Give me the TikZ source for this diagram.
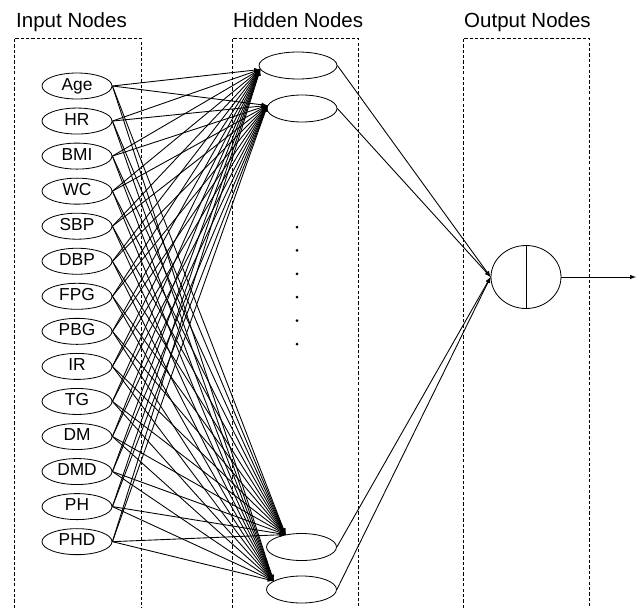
\documentclass[tikz,border=0pt]{standalone}
\usepackage{fontspec}
\setmainfont{Liberation Sans}
\usetikzlibrary{shapes.geometric}
\tikzset{
  layerbox/.style={dash pattern=on 2.8pt off 1.8pt, line width=0.55pt},
  layertitle/.style={anchor=base west, inner sep=0pt, font=\fontsize{17.5}{20}\selectfont},
  inode/.style={ellipse, draw, line width=0.7pt, inner sep=0.5pt,
    minimum width=2.1cm, minimum height=0.78cm,
    font=\fontsize{14.8}{16}\selectfont, text height=1.38ex, text depth=0pt},
  hnode/.style={ellipse, draw, line width=0.7pt, minimum width=2.1cm, minimum height=0.81cm},
  onode/.style={ellipse, draw, line width=0.7pt, minimum width=2.1cm, minimum height=1.89cm},
  link/.style={->, >=latex, line width=0.75pt}
}
\begin{document}
\begin{tikzpicture}[x=0.03cm,y=-0.03cm]
    \useasboundingbox (0,0) rectangle (638,609);
    % Layers
    \draw[layerbox] (14,608) |- (141,38) -- (141,608);
    \draw[layerbox] (232,608) |- (358,38) -- (358,608);
    \draw[layerbox] (463,608) |- (589,38) -- (589,608);
    \node[layertitle] (tin) at (16,27) {Input Nodes};
    \node[layertitle] (thid) at (233,27) {Hidden Nodes};
    \node[layertitle] (tout) at (464,27) {Output Nodes};
    % Input nodes
    \foreach \lab [count=\i] in {Age,HR,BMI,WC,SBP,DBP,FPG,PBG,IR,TG,DM,DMD,PH,PHD}
      \node[inode] (in\i) at (77,{86+35.05*(\i-1)}) {\lab};
    % Hidden nodes
    \node[hnode, minimum width=2.34cm] (h1) at (298,65.5) {};
    \node[hnode] (h2) at (302,108.5) {};
    \node[hnode] (h3) at (301.5,547) {};
    \node[hnode] (h4) at (301.5,589.5) {};
    \foreach \k in {0,...,5}
      \fill (297,{227+23.4*\k}) circle (0.045cm);
    % Output node
    \node[onode] (out) at (526,277) {};
    \draw[line width=0.7pt] (out.north) -- (out.south);
    \coordinate (yout) at (636,277);
    % Weights
    \foreach \i in {1,...,14} {
      \foreach \h/\a in {h1/186,h2/175,h3/142,h4/163}
        \draw[link] (in\i.east) -- (\h.\a);
    }
    \foreach \h in {h1,h2,h3,h4}
      \draw[link] (\h.east) -- (out.west);
    \draw[link] (out.east) -- (yout);
\end{tikzpicture}
\end{document}
